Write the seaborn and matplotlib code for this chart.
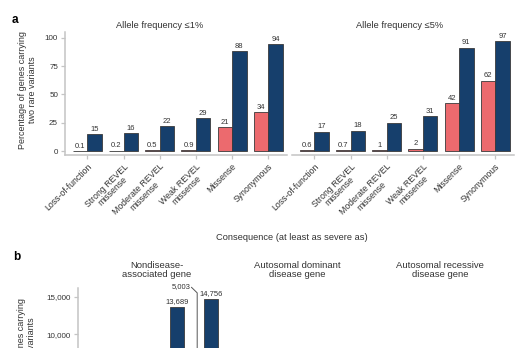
import numpy as np
import pandas as pd
import matplotlib
matplotlib.use("Agg")
import matplotlib.pyplot as plt
import seaborn as sns

# ---- data -------------------------------------------------------------
consequences = ["Loss-of-function", "Strong REVEL\nmissense", "Moderate REVEL\nmissense",
                "Weak REVEL\nmissense", "Missense", "Synonymous"]
af1_subset = [0.1, 0.2, 0.5, 0.9, 21, 34]
af1_all = [15, 16, 22, 29, 88, 94]
af5_subset = [0.6, 0.7, 1, 2, 42, 62]
af5_all = [17, 18, 25, 31, 91, 97]
facet_titles_a = ["Allele frequency \u22641%", "Allele frequency \u22645%"]
yticks_a = [0, 25, 50, 75, 100]

gene_sets = ["\u22641%", "\u22645%"]
nondisease_subset = [np.nan, 5003]
nondisease_all = [13689, 14756]
facet_titles_b = ["Nondisease-\nassociated gene", "Autosomal dominant\ndisease gene",
                  "Autosomal recessive\ndisease gene"]
yticks_b = [10000, 15000]

series = ["Subset", "All"]
RED = "#EC6A6E"
BLUE = "#163F6C"
EDGE = "#3a3a3a"
SPINE = "#c4c4c4"
TEXT = "#333333"

sns.set_theme(style="ticks")
plt.rcParams["font.family"] = ["Liberation Sans", "DejaVu Sans"]
plt.rcParams["text.color"] = TEXT
plt.rcParams["axes.labelcolor"] = TEXT
plt.rcParams["xtick.color"] = SPINE
plt.rcParams["ytick.color"] = SPINE
plt.rcParams["xtick.labelcolor"] = TEXT
plt.rcParams["ytick.labelcolor"] = TEXT

W, H = 521, 348
fig = plt.figure(figsize=(W / 100, H / 100), dpi=100)


def px_axes(left, top, width, height):
    return fig.add_axes([left / W, (H - top - height) / H, width / W, height / H])


def style_axes(ax, show_left=True):
    sns.despine(ax=ax)
    for s in ("left", "bottom"):
        ax.spines[s].set_color(SPINE)
        ax.spines[s].set_linewidth(1.1)
    if not show_left:
        ax.spines["left"].set_visible(False)
        ax.tick_params(axis="y", left=False, labelleft=False)
    ax.tick_params(axis="both", length=3, width=0.9, pad=2, labelsize=5.8)


def long_frame(cats, sub, alls, key):
    return pd.DataFrame({
        "cat": list(cats) * 2,
        key: list(sub) + list(alls),
        "series": [series[0]] * len(cats) + [series[1]] * len(cats),
    })


# ---- panel a ------------------------------------------------------------
panel_a = [(af1_subset, af1_all), (af5_subset, af5_all)]
title_x_a = [0.428, 0.486]
axes_a = []
for i, (sub, alls) in enumerate(panel_a):
    ax = px_axes(65 + i * 227, 32, 222, 123)
    df = long_frame(consequences, sub, alls, "pct")
    sns.barplot(data=df, x="cat", y="pct", hue="series", order=consequences,
                hue_order=series, palette=[RED, BLUE], width=0.8,
                edgecolor=EDGE, linewidth=0.6, saturation=1, legend=False, ax=ax)
    for cont in ax.containers:
        ax.bar_label(cont, fmt="{:g}", padding=1, fontsize=5.5, color=TEXT)
    ax.set_xlim(-0.62, 5.52)
    ax.set_ylim(-3.5, 105)
    ax.set_yticks(yticks_a)
    ax.set_xlabel("")
    ax.set_ylabel("")
    style_axes(ax, show_left=(i == 0))
    ax.set_xticks(range(len(consequences)))
    ax.set_xticklabels(consequences, rotation=45, ha="right", va="top",
                       rotation_mode="anchor", fontsize=6.3, linespacing=1.0,
                       multialignment="center")
    ax.set_title(facet_titles_a[i], x=title_x_a[i], pad=3, fontsize=6.7, color=TEXT)
    axes_a.append(ax)

axes_a[0].set_ylabel("Percentage of genes carrying\ntwo rare variants", fontsize=6.5)
axes_a[0].yaxis.set_label_coords(-0.126, 0.528)

fig.text(292 / W, 1 - 237 / H, "Consequence (at least as severe as)",
         ha="center", va="center", fontsize=6.7, color=TEXT)
fig.text(12 / W, 1 - 20 / H, "a", ha="left", va="center", fontsize=8.5,
         fontweight="bold", color="black")

# ---- panel b ------------------------------------------------------------
fig.text(13 / W, 1 - 257 / H, "b", ha="left", va="center", fontsize=8.5,
         fontweight="bold", color="black")

ax_b = px_axes(78, 288, 145, 125)
df_b = long_frame(gene_sets, nondisease_subset, nondisease_all, "n")
sns.barplot(data=df_b, x="cat", y="n", hue="series", order=gene_sets,
            hue_order=series, palette=[RED, BLUE], width=0.8,
            edgecolor=EDGE, linewidth=0.6, saturation=1, legend=False, ax=ax_b)
ax_b.set_xlim(-2.71, 1.56)
ax_b.set_ylim(-470, 16200)
ax_b.set_yticks(yticks_b)
ax_b.set_yticklabels([f"{v:,}" for v in yticks_b])
ax_b.set_xticks([])
ax_b.set_xlabel("")
ax_b.set_ylabel("Number of genes carrying\ntwo rare variants", fontsize=6.5)
ax_b.yaxis.set_label_coords(-0.29, 0.5)
style_axes(ax_b)

red_cont, blue_cont = ax_b.containers[0], ax_b.containers[1]
ax_b.bar_label(blue_cont, fmt="{:,.0f}", padding=1, fontsize=5.5, color=TEXT)
for bar in red_cont:
    h = bar.get_height()
    if not np.isfinite(h) or h <= 0:
        continue
    xc = bar.get_x() + bar.get_width() / 2
    ax_b.plot([xc, xc, xc - 0.17], [h, 15550, 16300], color="#555555",
              lw=0.7, clip_on=False)
    ax_b.text(xc - 0.19, 16420, f"{h:,.0f}", ha="right", va="center",
              fontsize=5.5, color=TEXT, clip_on=False)

title_x_b = [0.545, 0.497, 0.49]
ax_b.set_title(facet_titles_b[0], x=title_x_b[0], pad=8, fontsize=6.8,
               color=TEXT, linespacing=1.05)
for j, left in enumerate([225, 369]):
    ax = px_axes(left, 288, 145, 125)
    ax.set_xlim(-2.71, 1.56)
    ax.set_ylim(-470, 16200)
    ax.set_xticks([])
    style_axes(ax, show_left=False)
    ax.set_title(facet_titles_b[j + 1], x=title_x_b[j + 1], pad=8, fontsize=6.8,
                 color=TEXT, linespacing=1.05)

fig.savefig("out.png", dpi=100)
